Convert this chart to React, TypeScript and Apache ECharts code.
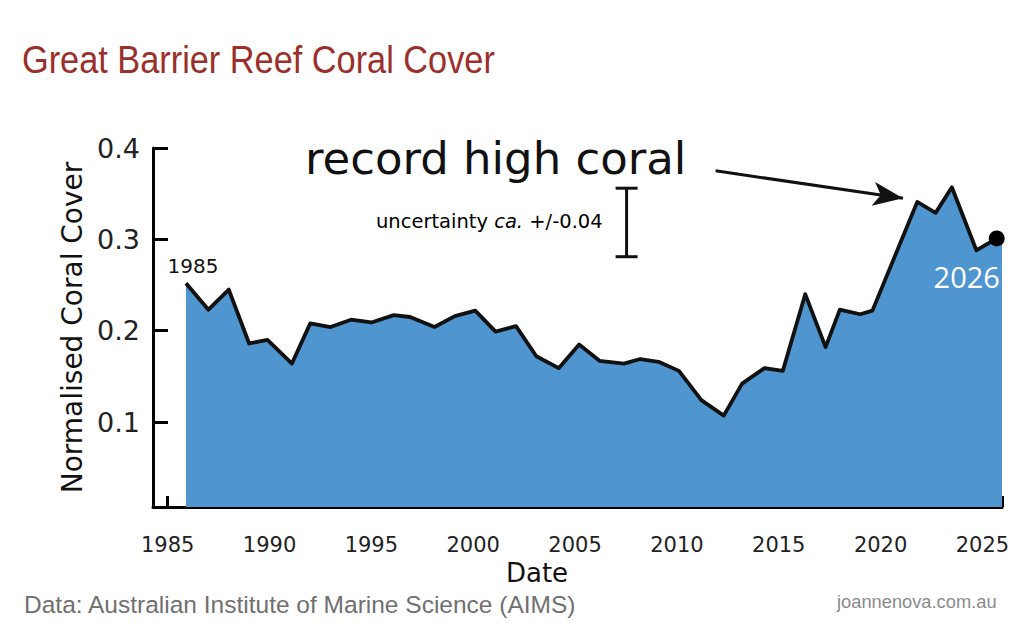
import React, { useEffect, useRef } from "react";
import * as echarts from "echarts";

// ---- data ----
const years = [
  1985.9, 1987.0, 1988.0, 1989.0, 1989.9, 1991.1, 1992.0, 1993.0, 1994.0, 1995.0,
  1996.1, 1996.9, 1998.1, 1999.1, 2000.1, 2001.1, 2002.1, 2003.1, 2004.2, 2005.2,
  2006.2, 2007.4, 2008.2, 2009.1, 2010.1, 2011.2, 2012.3, 2013.2, 2014.3, 2015.2,
  2016.3, 2017.3, 2018.0, 2019.0, 2019.6, 2021.8, 2022.7, 2023.5, 2024.7, 2025.7,
  2025.96,
];
const cover = [
  0.252, 0.223, 0.245, 0.186, 0.19, 0.164, 0.208, 0.204, 0.212, 0.209,
  0.217, 0.215, 0.204, 0.216, 0.222, 0.199, 0.205, 0.172, 0.159, 0.185,
  0.167, 0.164, 0.169, 0.166, 0.156, 0.124, 0.107, 0.142, 0.159, 0.156,
  0.24, 0.182, 0.223, 0.218, 0.222, 0.341, 0.329, 0.357, 0.288, 0.301,
  0.296,
];
const dotIndex = 39; // latest survey point (marked with a dot)
const xTickYears = [1985, 1990, 1995, 2000, 2005, 2010, 2015, 2020, 2025];
const yTicks = [0.1, 0.2, 0.3, 0.4];
const xMin = 1984.28;
const xMax = 2025.96;
const yMin = 0.007;
const yMax = 0.4;
const errorBar = [2007.53, 0.281, 0.356];
const arrowFrom = [2011.9, 0.375];
const arrowTo = [2021.1, 0.345];
const firstLabel = "1985";
const lastLabel = "2026";

const FONT = '"DejaVu Sans", Verdana, sans-serif';

export default function App() {
  const ref = useRef<HTMLDivElement>(null);

  useEffect(() => {
    const chart = echarts.init(ref.current as HTMLDivElement, null, { renderer: "svg" });

    const lineData = years.map((y, i) => {
      const item: any = { value: [y, cover[i]] };
      if (i === 0) {
        item.symbol = "circle";
        item.symbolSize = 1;
        item.itemStyle = { color: "rgba(0,0,0,0)" };
        item.label = {
          show: true,
          position: "top",
          distance: 7,
          offset: [7, 0],
          formatter: firstLabel,
          fontFamily: FONT,
          fontSize: 20,
          color: "#111",
        };
      }
      if (i === dotIndex) {
        item.symbol = "circle";
        item.symbolSize = 16;
        item.itemStyle = { color: "#000" };
        item.label = {
          show: true,
          position: "bottom",
          distance: 16,
          offset: [-30, 0],
          formatter: lastLabel,
          fontFamily: '"Open Sans", sans-serif',
          fontSize: 29,
          color: "#ffffff",
        };
      }
      return item;
    });

    chart.setOption({
      animation: false,
      backgroundColor: "#ffffff",
      grid: {
        left: 153,
        right: 22,
        top: 148,
        bottom: 126,
        containLabel: false,
        outerBoundsMode: "none",
      },
      xAxis: {
        type: "value",
        min: xMin,
        max: xMax,
        name: "Date",
        nameLocation: "middle",
        nameGap: 51,
        nameTextStyle: {
          fontFamily: FONT,
          fontSize: 26,
          color: "#111",
          padding: [0, 81, 0, 0],
        },
        axisLine: { show: true, onZero: false, lineStyle: { color: "#000", width: 3 } },
        axisTick: {
          show: true,
          inside: true,
          length: 11,
          customValues: [...xTickYears, xMax],
          lineStyle: { color: "#000", width: 3 },
        },
        axisLabel: {
          customValues: xTickYears,
          formatter: (v: number) => String(Math.round(v)),
          fontFamily: FONT,
          fontSize: 21,
          color: "#222",
          margin: 27,
        },
        splitLine: { show: false },
      },
      yAxis: {
        type: "value",
        min: yMin,
        max: yMax,
        name: "Normalised Coral Cover",
        nameLocation: "middle",
        nameGap: 62,
        nameTextStyle: { fontFamily: FONT, fontSize: 28, color: "#111" },
        axisLine: { show: true, lineStyle: { color: "#000", width: 3 } },
        axisTick: {
          show: true,
          inside: true,
          length: 15,
          customValues: yTicks,
          lineStyle: { color: "#000", width: 3 },
        },
        axisLabel: {
          customValues: yTicks,
          formatter: (v: number) => v.toFixed(1),
          fontFamily: FONT,
          fontSize: 27,
          color: "#222",
          margin: 13,
        },
        splitLine: { show: false },
      },
      series: [
        {
          type: "line",
          data: lineData,
          showSymbol: true,
          symbol: "none",
          lineStyle: { color: "#111", width: 3.8, join: "round" },
          areaStyle: { color: "#4f95cf", opacity: 1, origin: "start" },
          z: 3,
          markLine: {
            silent: true,
            symbol: ["none", "arrow"],
            symbolSize: [18, 30],
            label: { show: false },
            lineStyle: { color: "#111", width: 3, type: "solid" },
            emphasis: { disabled: true },
            data: [[{ coord: arrowFrom }, { coord: arrowTo }]],
          },
        },
        {
          type: "custom",
          data: [errorBar],
          encode: { x: 0, y: [1, 2] },
          silent: true,
          z: 4,
          renderItem: (params: any, api: any) => {
            const x = api.value(0);
            const lo = api.coord([x, api.value(1)]);
            const hi = api.coord([x, api.value(2)]);
            const st = { stroke: "#111", lineWidth: 3 };
            return {
              type: "group",
              children: [
                { type: "line", shape: { x1: lo[0], y1: lo[1], x2: hi[0], y2: hi[1] }, style: st },
                { type: "line", shape: { x1: lo[0] - 11, y1: lo[1], x2: lo[0] + 11, y2: lo[1] }, style: st },
                { type: "line", shape: { x1: hi[0] - 11, y1: hi[1], x2: hi[0] + 11, y2: hi[1] }, style: st },
              ],
            };
          },
        },
      ],
      graphic: [
        {
          type: "text",
          x: 22,
          y: 60,
          scaleX: 0.88,
          style: {
            text: "Great Barrier Reef Coral Cover",
            font: '39px "Liberation Sans", Arial, sans-serif',
            fill: "#9b2f2b",
            align: "left",
            verticalAlign: "middle",
            textAlign: "left",
            textVerticalAlign: "middle",
          },
        },
        {
          type: "text",
          x: 305,
          y: 158,
          style: {
            text: "record high coral",
            font: `45px ${FONT}`,
            fill: "#111",
            align: "left",
            verticalAlign: "middle",
            textAlign: "left",
            textVerticalAlign: "middle",
          },
        },
        {
          type: "text",
          x: 376,
          y: 221,
          style: {
            text: "{n|uncertainty }{i|ca.}{n| +/-0.04}",
            align: "left",
            verticalAlign: "middle",
            textAlign: "left",
            textVerticalAlign: "middle",
            rich: {
              n: { fontFamily: FONT, fontSize: 19.5, color: "#222" },
              i: { fontFamily: FONT, fontSize: 19.5, fontStyle: "italic", color: "#222" },
            },
          },
        },
        {
          type: "text",
          x: 24,
          y: 604,
          style: {
            text: "Data: Australian Institute of Marine Science (AIMS)",
            font: '24.5px "Liberation Sans", Arial, sans-serif',
            fill: "#707070",
            align: "left",
            verticalAlign: "middle",
            textAlign: "left",
            textVerticalAlign: "middle",
          },
        },
        {
          type: "text",
          x: 837,
          y: 601,
          style: {
            text: "joannenova.com.au",
            font: '18.3px "Liberation Sans", Arial, sans-serif',
            fill: "#8a8a8a",
            align: "left",
            verticalAlign: "middle",
            textAlign: "left",
            textVerticalAlign: "middle",
          },
        },
      ],
    });

    return () => chart.dispose();
  }, []);

  return (
    <div
      ref={ref}
      style={{ position: "fixed", left: 0, top: 0, width: 1024, height: 633, background: "#fff" }}
    />
  );
}
